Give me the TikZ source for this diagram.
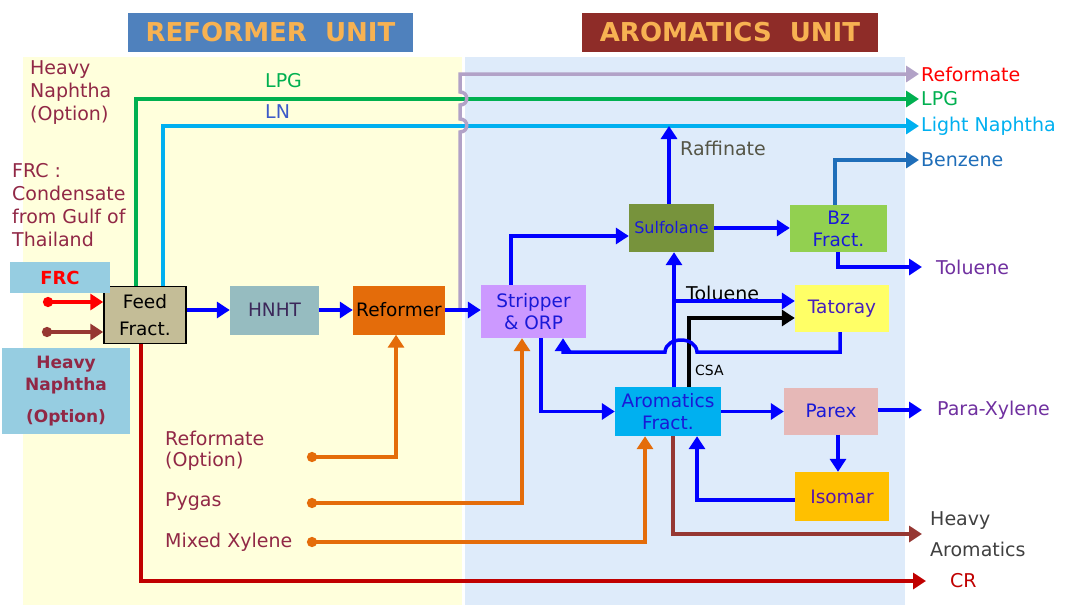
\documentclass[tikz,border=0pt]{standalone}
\usepackage{fontspec}
\setmainfont{DejaVu Sans}
\usepackage{tikz}
\usetikzlibrary{arrows.meta}
\usepackage{xcolor}
\definecolor{bgyel}{RGB}{255,255,220}
\definecolor{bgblu}{RGB}{222,235,250}
\definecolor{reftit}{RGB}{79,129,189}
\definecolor{aromtit}{RGB}{142,44,40}
\definecolor{tittxt}{RGB}{247,178,82}
\definecolor{lpgcol}{RGB}{0,176,80}
\definecolor{lncol}{RGB}{0,176,240}
\definecolor{lnlbl}{RGB}{60,90,200}
\definecolor{refcol}{RGB}{178,162,199}
\definecolor{flowcol}{RGB}{0,0,255}
\definecolor{flowtxt}{RGB}{25,25,215}
\definecolor{bzcol}{RGB}{31,110,185}
\definecolor{orcol}{RGB}{228,108,10}
\definecolor{crcol}{RGB}{192,0,0}
\definecolor{hvcol}{RGB}{150,55,50}
\definecolor{maroon}{RGB}{145,40,70}
\definecolor{purp}{RGB}{112,48,160}
\definecolor{darktxt}{RGB}{64,64,64}
\definecolor{raftxt}{RGB}{85,85,70}
\definecolor{hnhttxt}{RGB}{60,40,90}
\definecolor{tattxt}{RGB}{70,30,190}
\definecolor{isotxt}{RGB}{90,20,170}
\definecolor{feedfill}{RGB}{196,189,151}
\definecolor{hnhtfill}{RGB}{150,188,192}
\definecolor{stripfill}{RGB}{204,153,255}
\definecolor{sulffill}{RGB}{119,147,60}
\definecolor{bzfill}{RGB}{146,208,80}
\definecolor{tatfill}{RGB}{255,255,102}
\definecolor{parfill}{RGB}{230,184,183}
\definecolor{isofill}{RGB}{255,192,0}
\definecolor{frcfill}{RGB}{150,205,225}
\newcommand{\lblfont}{\fontsize{19}{23}\selectfont}
\newcommand{\boxfont}{\fontsize{18.5}{22}\selectfont}
\newcommand{\titfont}{\fontsize{26}{30}\selectfont\bfseries}

\begin{document}
\begin{tikzpicture}[x=1pt,y=-1pt,
  flow/.style={line width=3.5pt,draw=flowcol,-{Triangle[length=13pt,width=16pt]}},
  feedin/.style={line width=3.5pt,{Circle[length=10pt]}-{Triangle[length=13pt,width=16pt]}},
  unitbox/.style={rectangle,inner sep=0pt,align=center,font=\boxfont,text=flowtxt},
  lbl/.style={inner sep=2pt,anchor=west,font=\lblfont},
  hdr/.style={rectangle,inner sep=0pt,minimum height=39,font=\titfont,text=tittxt}]
\fill[white] (0,0) rectangle (1067,605);
\fill[bgyel] (23,57) rectangle (462,605);
\fill[bgblu] (465,57) rectangle (905,605);
\node[hdr,fill=reftit,minimum width=285] (reftitle) at (270.5,32.5) {REFORMER\ \ UNIT};
\node[hdr,fill=aromtit,minimum width=296] (aromtitle) at (730,32.5) {AROMATICS\ \ UNIT};

\node[unitbox,fill=feedfill,draw=black,line width=1.5pt,minimum width=82,minimum height=57,text=black,font=\fontsize{18.5}{27}\selectfont] (feed) at (145,315) {Feed\\Fract.};
\node[unitbox,fill=hnhtfill,minimum width=89,minimum height=49,text=hnhttxt] (hnht) at (274.5,310) {HNHT};
\node[unitbox,fill=orcol,minimum width=92,minimum height=49,text=black] (reformer) at (399,310) {Reformer};
\node[unitbox,fill=stripfill,minimum width=105,minimum height=53] (stripper) at (533.5,311.5) {Stripper\\\& ORP};
\node[unitbox,fill=sulffill,minimum width=85,minimum height=48,font=\fontsize{16}{18}\selectfont] (sulfolane) at (671.5,228) {Sulfolane};
\node[unitbox,fill=bzfill,minimum width=97,minimum height=47] (bz) at (838.5,228.5) {Bz\\Fract.};
\node[unitbox,fill=tatfill,minimum width=94,minimum height=47,text=tattxt] (tatoray) at (842,308.5) {Tatoray};
\node[unitbox,fill=lncol,minimum width=106,minimum height=49] (aromf) at (668,411.5) {Aromatics\\Fract.};
\node[unitbox,fill=parfill,minimum width=94,minimum height=47] (parex) at (831,411) {Parex};
\node[unitbox,fill=isofill,minimum width=94,minimum height=49,text=isotxt] (isomar) at (842,496.5) {Isomar};

\node[fill=frcfill,minimum width=100,minimum height=31,inner sep=0pt,font=\fontsize{18}{20}\selectfont\bfseries,text=red] (frc) at (60,277.5) {FRC};
\node[fill=frcfill,minimum width=128,minimum height=86,inner sep=0pt,align=center,font=\fontsize{17}{22}\selectfont\bfseries,text=maroon] (hnbox) at (66,391) {Heavy\\Naphtha\\[10pt](Option)};

\node[lbl,align=left,text=maroon] (hnopt) at (28,92.5) {Heavy\\Naphtha\\(Option)};
\node[lbl,align=left,text=maroon] (frcsrc) at (10,205) {FRC :\\Condensate\\from Gulf of\\Thailand};
\node[lbl,text=lpgcol] (lpgL) at (263,81) {LPG};
\node[lbl,text=lnlbl] (lnL) at (263,112) {LN};
\node[lbl,align=left,text=maroon,font=\fontsize{19}{21}\selectfont] (roptL) at (163,450.5) {Reformate\\(Option)};
\node[lbl,text=maroon] (pygL) at (163,502) {Pygas};
\node[lbl,text=maroon] (mxyL) at (163,542) {Mixed Xylene};
\node[lbl,text=raftxt] (raff) at (678,148) {Raffinate};
\node[lbl] (tollbl) at (684,293) {Toluene};
\node[lbl,font=\fontsize{14}{16}\selectfont] (csa) at (693,370) {CSA};

\node[lbl,text=red] (refR) at (919,74) {Reformate};
\node[lbl,text=lpgcol] (lpgR) at (919,99) {LPG};
\node[lbl,text=lncol] (lnR) at (919,126) {Light Naphtha};
\node[lbl,text=bzcol] (benzR) at (919,160) {Benzene};
\node[lbl,text=purp] (tolR) at (934,267) {Toluene};
\node[lbl,text=purp] (pxR) at (935,410) {Para-Xylene};
\node[lbl,align=left,text=darktxt,font=\fontsize{19}{31}\selectfont] (haR) at (928,534) {Heavy\\Aromatics};
\node[lbl,text=crcol] (crR) at (948,581) {CR};

\draw[flow,draw=lpgcol] ([xshift=-9]feed.north) |- (lpgR.west);
\draw[flow,draw=lncol] ([xshift=18]feed.north) |- (lnR.west);
\coordinate (tap) at (460,310);
\draw[flow,draw=refcol] (tap) -- (460,132) .. controls (469,132) and (469,119) .. (460,119) -- (460,105) .. controls (469,105) and (469,92) .. (460,92) |- (refR.west);
\draw[flow,draw=bzcol] ([xshift=-3.5]bz.north) |- (benzR.west);
\draw[flow] ([xshift=-2.5]sulfolane.north) -- ([xshift=-2.5]sulfolane.north |- lnR.west);

\draw[flow] (feed.east |- hnht.west) -- (hnht.west);
\draw[flow] (hnht.east) -- (reformer.west);
\draw[flow] (reformer.east) -- (reformer.east -| stripper.west);
\draw[flow] ([xshift=-22.5]stripper.north) |- ([yshift=-8]sulfolane.west);
\draw[flow] (sulfolane.east) -- (sulfolane.east -| bz.west);
\draw[flow] ([xshift=-0.5]bz.south) |- ([xshift=-12]tolR.west);
\draw[flow] ([xshift=6]aromf.north) -- ([xshift=6]aromf.north |- sulfolane.south);
\coordinate (tj) at (674,301);
\draw[flow] (tj) -- (tj -| tatoray.west);
\draw[flow,draw=black] ([xshift=21]aromf.north) |- ([yshift=-9.5]tatoray.west);
\draw[flow] ([xshift=-2]tatoray.south) |- (697,352) .. controls (696,336) and (666,336) .. (665,352) -| ([xshift=29.5]stripper.south);
\draw[flow] ([xshift=7.5]stripper.south) |- (aromf.west);
\draw[flow] (aromf.east) -- (aromf.east -| parex.west);
\draw[flow] (parex.east |- pxR.west) -- ([xshift=-13]pxR.west);
\draw[flow] ([xshift=7]parex.south) -- ([xshift=7]parex.south |- isomar.north);
\draw[flow] ([yshift=-3.5]isomar.west) -| ([xshift=29]aromf.south);
\draw[flow,draw=hvcol] ([xshift=5]aromf.south) |- ([xshift=-6]haR.west);
\draw[flow,draw=crcol] ([xshift=-4]feed.south) |- ([xshift=-22]crR.west);

\coordinate (ropt) at (307,457);
\coordinate (pyg) at (307,503);
\coordinate (mxy) at (307,542);
\draw[feedin,draw=orcol] (ropt) -| ([xshift=-3]reformer.south);
\draw[feedin,draw=orcol] (pyg) -| ([xshift=-11.5]stripper.south);
\draw[feedin,draw=orcol] (mxy) -| ([xshift=-23]aromf.south);
\coordinate (frcin) at (43,302);
\coordinate (hnin) at (42,332);
\draw[feedin,draw=red] (frcin) -- (frcin -| feed.west);
\draw[feedin,draw=hvcol] (hnin) -- (hnin -| feed.west);
\end{tikzpicture}
\end{document}
